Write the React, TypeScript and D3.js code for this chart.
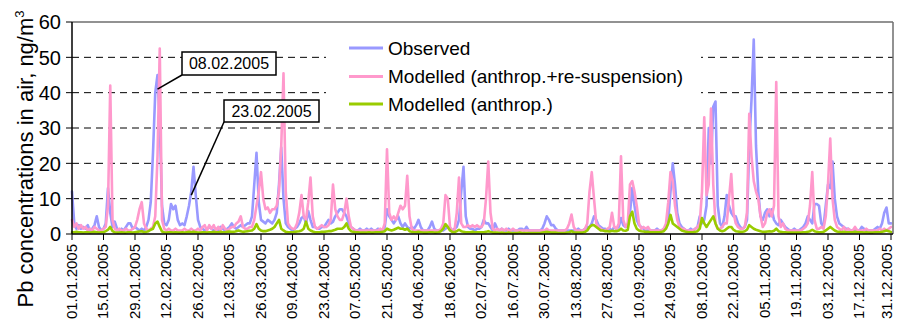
import React from "react";
import * as d3 from "d3";

const WIDTH = 897;
const HEIGHT = 325;
const PLOT = { left: 72, right: 893, top: 22, bottom: 234, lastX: 891 };
const FONT = "'Liberation Sans', Arial, Helvetica, sans-serif";
const LABEL_MAX_X = 887;

// Axis labels
const tickLabels = [
  "01.01.2005", "15.01.2005", "29.01.2005", "12.02.2005", "26.02.2005", "12.03.2005",
  "26.03.2005", "09.04.2005", "23.04.2005", "07.05.2005", "21.05.2005", "04.06.2005",
  "18.06.2005", "02.07.2005", "16.07.2005", "30.07.2005", "13.08.2005", "27.08.2005",
  "10.09.2005", "24.09.2005", "08.10.2005", "22.10.2005", "05.11.2005", "19.11.2005",
  "03.12.2005", "17.12.2005", "31.12.2005",
];
const yTicks = [0, 10, 20, 30, 40, 50, 60];
const yGrid = [10, 20, 30, 40, 50];
const firstDay = "01.01.2005";
const lastDay = "31.12.2005";

// Daily Pb concentrations in air, ng/m3 (one value per day of 2005)
const observed = [
  /* Jan */ 12, 3, 1.5, 2.5, 1.5, 2, 1.5, 2.5, 1, 1.5, 2.5, 5, 2, 1, 1.5, 3, 13, 6, 2, 3.5, 1.5, 1, 1.5, 1, 2, 3, 3, 1.5, 2, 1.5, 1,
  /* Feb */ 1.5, 1, 2, 4, 9, 23, 40, 45, 32, 8, 3, 2.5, 4, 8.5, 7, 8, 4, 2.5, 3, 2.5, 5, 8, 12, 19, 11, 4, 2, 1.5,
  /* Mar */ 1, 1.5, 2, 1.5, 1, 1.5, 1, 2, 1.5, 1, 1.5, 2, 3, 2, 1.5, 2, 2.5, 2, 2.5, 3, 3, 5, 14, 23, 9, 4, 3.5, 3, 4, 3.5, 3,
  /* Apr */ 4, 6, 14, 24.5, 10, 3, 2, 1.5, 1, 1.5, 2, 3, 4.5, 5, 3, 6.5, 4, 2, 2, 1.5, 1.5, 2, 2, 3, 4, 3, 3.5, 5, 6, 7,
  /* May */ 7, 6, 5, 3, 2, 1.5, 1, 1, 1.5, 1, 1, 1.5, 1, 1.5, 1, 1, 1.5, 1, 1, 2, 7, 5, 4, 3, 4, 5, 3, 2, 3, 2, 1.5,
  /* Jun */ 2, 1.5, 2.5, 4, 2, 1, 1, 1, 2, 3.5, 1.5, 1, 1, 1, 1, 1.5, 2, 1.5, 1, 1.5, 2, 4, 12, 19, 5, 2, 1.5, 1.5, 1, 1.5,
  /* Jul */ 1.5, 2, 4, 3, 3, 2, 1, 3, 1.5, 1, 1.5, 1, 1, 1.5, 1, 1, 1, 1, 1.5, 1.5, 1, 2, 1, 1, 1, 1, 1, 1, 1.5, 3, 5,
  /* Aug */ 4, 2.5, 2.5, 1.5, 1, 1, 1, 1, 1, 1, 1, 1, 1, 1.5, 1, 1, 1.5, 2, 2, 3, 5, 4, 2.5, 2, 1.5, 1.5, 1, 1.5, 1, 2, 1.5,
  /* Sep */ 2, 4.5, 2.5, 2, 2.5, 6, 13, 8, 4, 2.5, 2, 1.5, 1, 1, 1, 1, 1, 1.5, 1, 1, 1.5, 2, 4, 12, 20, 14, 6, 3, 2, 1.5,
  /* Oct */ 1, 1, 1.5, 1, 1.5, 2, 5, 3, 4, 8, 30, 20, 36, 37.5, 8, 3, 2, 5, 11, 8, 6, 5, 5, 3, 2, 1.5, 2, 4, 25, 38, 55,
  /* Nov */ 25, 12, 5, 4, 6, 7, 5, 7, 4, 3, 2.5, 4, 3, 2, 1.5, 1, 1, 1.5, 1, 1, 1.5, 2, 3, 5, 4, 3, 8.5, 8.5, 8, 3,
  /* Dec */ 2, 8, 14, 13, 20.5, 10, 5, 3, 2.5, 2, 1.5, 1.5, 1, 1, 1.5, 1, 1, 2, 1.5, 1, 1, 1, 1, 1.5, 2, 1.5, 3, 6, 7.5, 3, 3,
];

const modelledTotal = [
  /* Jan */ 4, 2, 3, 1.5, 2.5, 1.5, 2, 1, 1.5, 1, 2, 1.5, 1, 1, 1.5, 2, 8, 42, 4, 1.5, 1, 1.5, 1, 1, 1.5, 1, 1, 1.5, 2, 4, 7,
  /* Feb */ 9, 3, 1.5, 1, 1.5, 2, 5, 22, 52.5, 4, 1.5, 1, 1.5, 1, 1, 1.5, 1, 1, 1, 1.5, 1, 1, 1.5, 1, 1, 1.5, 1, 2,
  /* Mar */ 2.5, 1, 2.5, 1.5, 2.5, 1, 2, 1, 2.5, 1.5, 1, 1.5, 2, 2, 3, 3.5, 5, 2, 1.5, 1.5, 2, 2, 4, 8, 12, 17.5, 10, 7, 7.5, 6, 7,
  /* Apr */ 7, 8, 12, 25, 45.5, 12, 3, 2, 1.5, 1.5, 3, 6, 11, 5, 4, 9, 16, 5, 2, 1.5, 2, 2.5, 2, 2, 2.5, 4, 14, 7, 5, 4,
  /* May */ 4, 6, 10, 5, 2, 1.5, 1, 1, 1, 1, 1, 1, 1, 1, 1, 1, 1, 1.5, 1, 3, 24, 6, 4, 5, 4, 6, 8, 7, 8, 16.5, 5,
  /* Jun */ 1.5, 1, 1, 1, 1, 1, 1, 1, 1, 1, 1, 1, 1, 1.5, 3, 11, 10, 2, 1, 1, 6, 16, 3, 2, 2, 2.5, 2, 2.5, 2, 2.5,
  /* Jul */ 2, 2, 3, 10, 20.5, 6, 1.5, 1, 1.5, 1, 1.5, 1, 1.5, 1, 1, 1.5, 1, 1, 1, 1, 1, 1, 1, 1, 1, 1, 1, 1, 1, 1, 1.5,
  /* Aug */ 1, 1, 1, 1, 1, 1, 1, 1, 1.5, 3, 5.5, 2, 1, 1, 1, 1, 1.5, 3, 12, 17.5, 10, 3, 2, 1.5, 1, 1, 1.5, 2, 6, 2, 1.5,
  /* Sep */ 3, 22, 4, 2, 3, 14, 15, 12, 8, 3, 1.5, 2, 1.5, 2, 1, 1, 1, 1, 1, 1, 1.5, 3, 9, 17.5, 15, 8, 4, 2, 1.5, 1.5,
  /* Oct */ 1, 1, 1, 1, 1.5, 2, 3, 12, 33, 11, 14, 35.5, 14, 3, 1.5, 1.5, 2, 3, 3, 10, 17, 6, 3, 2, 1.5, 1.5, 2, 6, 34, 22, 15,
  /* Nov */ 12, 10, 5, 2, 3, 6, 7, 5, 8, 43, 5, 2, 3, 1.5, 1, 1, 1, 1, 1, 1, 1, 1.5, 2, 3, 8, 17.5, 4, 1.5, 1.5, 2,
  /* Dec */ 1.5, 5, 14, 27, 10, 4, 2, 1.5, 1, 2, 1, 1.5, 1, 1, 2, 1, 1, 1, 1, 1.5, 1, 1, 1, 1, 1, 1.5, 1, 1.5, 1, 1.5, 2,
];

const modelledAnthrop = [
  /* Jan */ 0.5, 0.5, 0.6, 0.5, 0.5, 0.4, 0.5, 0.5, 0.4, 0.5, 0.6, 0.5, 0.4, 0.5, 0.5, 0.8, 1.2, 2, 0.8, 0.5, 0.4, 0.4, 0.5, 0.4, 0.4, 0.5, 0.5, 0.4, 0.5, 0.6, 0.7,
  /* Feb */ 0.8, 0.5, 0.6, 0.8, 1.2, 1.5, 3, 3.5, 2, 0.7, 0.5, 0.4, 0.5, 0.5, 0.4, 0.5, 0.4, 0.4, 0.5, 0.4, 0.5, 0.6, 0.5, 0.6, 0.5, 0.4, 0.4, 0.5,
  /* Mar */ 0.5, 0.4, 0.5, 0.5, 0.6, 0.5, 0.5, 0.6, 0.5, 0.5, 0.6, 0.7, 0.6, 0.6, 0.8, 1, 0.8, 0.6, 0.7, 0.8, 0.9, 1, 1.5, 2.8, 1.5, 1, 0.8, 0.8, 1, 1.2, 1.5,
  /* Apr */ 2, 3, 4, 1.5, 1, 0.6, 0.5, 0.5, 0.5, 0.6, 0.7, 0.8, 1, 1.5, 3.5, 1.5, 1, 0.7, 0.5, 0.5, 0.5, 0.6, 0.6, 0.7, 0.8, 0.8, 1, 1.2, 1.5, 1.5,
  /* May */ 1.5, 2, 3, 1.5, 0.8, 0.6, 0.5, 0.5, 0.4, 0.4, 0.4, 0.4, 0.5, 0.4, 0.4, 0.5, 0.5, 0.5, 0.6, 0.8, 1.5, 1.2, 1, 1.2, 1.5, 1.8, 1.5, 1.5, 1.2, 1.5, 0.8,
  /* Jun */ 0.6, 0.5, 0.5, 0.6, 0.5, 0.4, 0.4, 0.4, 0.5, 0.5, 0.4, 0.4, 0.5, 0.8, 1.5, 2.8, 2, 1, 0.6, 0.5, 0.8, 1.2, 0.8, 0.6, 0.5, 0.5, 0.5, 0.6, 0.5, 0.5,
  /* Jul */ 0.5, 0.5, 0.5, 0.6, 0.8, 0.6, 0.4, 0.4, 0.4, 0.3, 0.4, 0.3, 0.3, 0.4, 0.3, 0.3, 0.3, 0.3, 0.4, 0.3, 0.3, 0.3, 0.3, 0.3, 0.3, 0.3, 0.3, 0.3, 0.4, 0.5, 0.6,
  /* Aug */ 0.5, 0.4, 0.4, 0.4, 0.3, 0.3, 0.3, 0.3, 0.4, 0.5, 0.8, 0.5, 0.4, 0.4, 0.4, 0.4, 0.6, 1, 2, 2.5, 2.5, 2, 1.5, 1, 1, 0.8, 0.8, 0.7, 0.9, 0.8, 0.8,
  /* Sep */ 1, 1.5, 1, 0.9, 1.2, 5, 6.3, 3, 1.5, 1, 0.8, 0.7, 0.6, 0.6, 0.5, 0.5, 0.5, 0.5, 0.5, 0.6, 0.8, 1.5, 3, 5.4, 3, 2.5, 2, 1.5, 1, 0.8,
  /* Oct */ 0.6, 0.5, 0.5, 0.5, 0.6, 0.8, 1.5, 4.5, 3, 2, 3, 4, 5, 3, 1.5, 1, 0.8, 1, 1.5, 2, 2, 1.2, 0.8, 0.7, 0.6, 0.6, 0.8, 1.2, 2.5, 2, 1.5,
  /* Nov */ 1.2, 1, 0.8, 0.6, 0.6, 0.7, 0.8, 0.7, 0.9, 1.5, 0.8, 0.6, 0.5, 0.5, 0.4, 0.4, 0.4, 0.4, 0.4, 0.4, 0.4, 0.5, 0.5, 0.6, 0.8, 1.2, 0.8, 0.6, 0.5, 0.5,
  /* Dec */ 0.6, 1, 1.5, 2, 1.5, 1, 0.7, 0.6, 0.5, 0.6, 0.5, 0.5, 0.5, 0.5, 0.6, 0.5, 0.5, 0.5, 0.4, 0.5, 0.4, 0.4, 0.4, 0.5, 0.5, 0.5, 0.6, 0.8, 1, 0.8, 0.6,
];

const seriesNames = ["Observed", "Modelled (anthrop.+re-suspension)", "Modelled (anthrop.)"];
const seriesColors = ["#9999FF", "#FF99CC", "#99CC00"];
const seriesValues = [observed, modelledTotal, modelledAnthrop];

// Callouts: label, the date pointed at, and the concentration where the leader ends
const calloutLabels = ["08.02.2005", "23.02.2005"];
const calloutDates = ["08.02.2005", "23.02.2005"];
const calloutValues = [41, 11];
const calloutBoxes = [
  { x: 182, y: 52, w: 94, h: 23 },
  { x: 224, y: 100, w: 95, h: 22 },
];

const parseDay = d3.timeParse("%d.%m.%Y");

export default function App() {
  const start = parseDay(firstDay) as Date;
  const end = parseDay(lastDay) as Date;

  const x = d3.scaleTime().domain([start, end]).range([PLOT.left, PLOT.lastX]);
  const y = d3.scaleLinear().domain([0, 60]).range([PLOT.bottom, PLOT.top]);

  const line = d3
    .line<number>()
    .x((_, i) => x(d3.timeDay.offset(start, i)))
    .y((v) => y(v));

  const tickDates = tickLabels.map((t) => parseDay(t) as Date);

  const legendX = 349;
  const legendRows = [48, 76.5, 104];

  return (
    <svg
      width={WIDTH}
      height={HEIGHT}
      style={{ position: "absolute", left: 0, top: 0, background: "#fff" }}
      fontFamily={FONT}
    >
      <rect x={0} y={0} width={WIDTH} height={HEIGHT} fill="#fff" />

      {/* horizontal dashed gridlines */}
      {yGrid.map((v) => (
        <line
          key={`g${v}`}
          x1={PLOT.left}
          x2={PLOT.right}
          y1={y(v)}
          y2={y(v)}
          stroke="#000"
          strokeWidth={1}
          strokeDasharray="7,5"
        />
      ))}

      {/* series */}
      {seriesValues.map((vals, i) => (
        <path
          key={seriesNames[i]}
          d={line(vals) || ""}
          fill="none"
          stroke={seriesColors[i]}
          strokeWidth={2.6}
          strokeLinejoin="round"
          strokeLinecap="round"
        />
      ))}

      {/* plot frame: grey top/right, black axes */}
      <line x1={PLOT.left} x2={PLOT.right} y1={PLOT.top} y2={PLOT.top} stroke="#6e6e6e" strokeWidth={1.5} />
      <line x1={PLOT.right} x2={PLOT.right} y1={PLOT.top} y2={PLOT.bottom} stroke="#6e6e6e" strokeWidth={1.5} />
      <line x1={PLOT.left} x2={PLOT.left} y1={PLOT.top} y2={PLOT.bottom} stroke="#000" strokeWidth={1.5} />
      <line x1={PLOT.left} x2={PLOT.right} y1={PLOT.bottom} y2={PLOT.bottom} stroke="#000" strokeWidth={1.5} />

      {/* y axis */}
      {yTicks.map((v) => (
        <g key={`y${v}`}>
          <line x1={PLOT.left - 6} x2={PLOT.left} y1={y(v)} y2={y(v)} stroke="#000" strokeWidth={1} />
          <text x={61} y={y(v)} dy="0.36em" textAnchor="end" fontSize={20} fill="#000">
            {v}
          </text>
        </g>
      ))}
      <text
        transform={`translate(33, 159) rotate(-90)`}
        textAnchor="middle"
        fontSize={22}
        fill="#000"
      >
        Pb concentrations in air, ng/m
        <tspan fontSize={13} dy="-9">3</tspan>
      </text>

      {/* x axis */}
      {tickDates.map((d, i) => (
        <g key={tickLabels[i]}>
          <line x1={x(d)} x2={x(d)} y1={PLOT.bottom} y2={PLOT.bottom + 6} stroke="#000" strokeWidth={1} />
          <text
            transform={`translate(${Math.min(x(d), LABEL_MAX_X)}, 244) rotate(-90)`}
            dy="0.33em"
            textAnchor="end"
            fontSize={15}
            fill="#000"
          >
            {tickLabels[i]}
          </text>
        </g>
      ))}

      {/* legend */}
      <rect x={326} y={30} width={375} height={88} fill="#fff" />
      {seriesNames.map((name, i) => (
        <g key={`lg${i}`}>
          <line
            x1={legendX}
            x2={legendX + 34}
            y1={legendRows[i]}
            y2={legendRows[i]}
            stroke={seriesColors[i]}
            strokeWidth={3}
          />
          <text x={legendX + 39} y={legendRows[i]} dy="0.36em" fontSize={19} fill="#000">
            {name}
          </text>
        </g>
      ))}

      {/* callouts */}
      {calloutLabels.map((label, i) => {
        const box = calloutBoxes[i];
        const tx = x(parseDay(calloutDates[i]) as Date);
        const ty = y(calloutValues[i]);
        return (
          <g key={`c${i}`}>
            <line x1={box.x} y1={box.y + box.h} x2={tx} y2={ty} stroke="#000" strokeWidth={1.5} />
            <rect x={box.x} y={box.y} width={box.w} height={box.h} fill="#fff" stroke="#000" strokeWidth={1.5} />
            <text
              x={box.x + box.w / 2}
              y={box.y + box.h / 2}
              dy="0.36em"
              textAnchor="middle"
              fontSize={16}
              fill="#000"
            >
              {label}
            </text>
          </g>
        );
      })}
    </svg>
  );
}
